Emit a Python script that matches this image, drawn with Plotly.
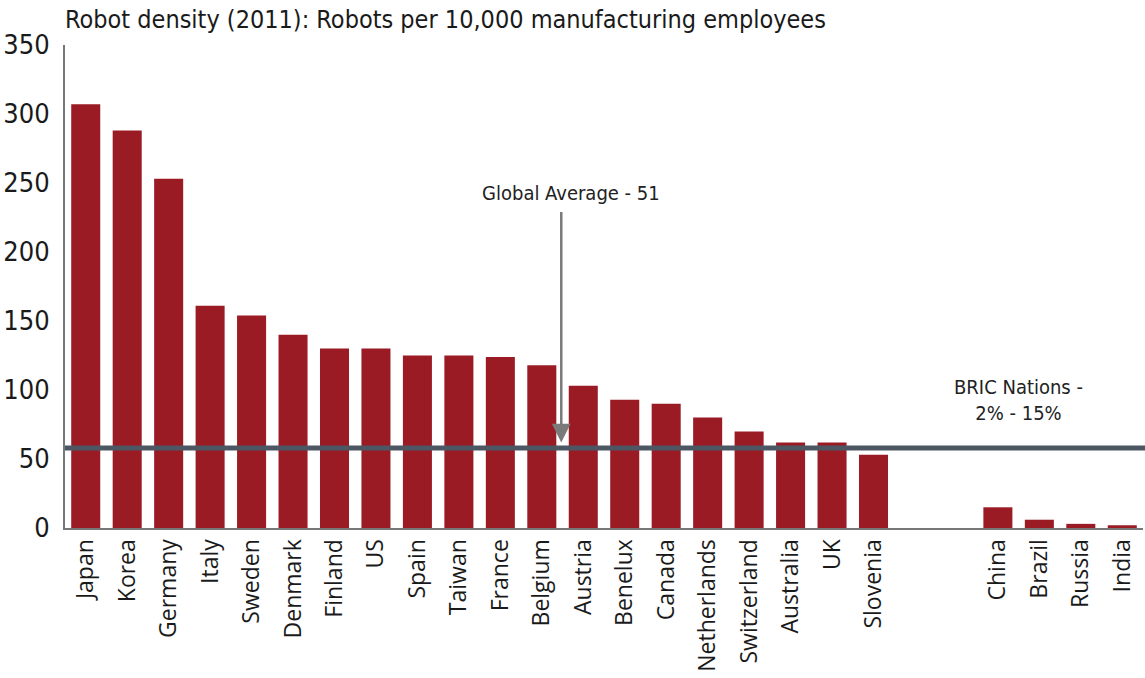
import plotly.graph_objects as go

countries = ["Japan", "Korea", "Germany", "Italy", "Sweden", "Denmark", "Finland", "US",
             "Spain", "Taiwan", "France", "Belgium", "Austria", "Benelux", "Canada",
             "Netherlands", "Switzerland", "Australia", "UK", "Slovenia"]
density = [307, 288, 253, 161, 154, 140, 130, 130, 125, 125, 124, 118, 103, 93, 90,
           80, 70, 62, 62, 53]
bric = ["China", "Brazil", "Russia", "India"]
bric_density = [15, 6, 3, 2]
spacers = [" ", "  "]
average_line = 58
y_ticks = [0, 50, 100, 150, 200, 250, 300, 350]

cats = countries + spacers + bric
vals = density + [None, None] + bric_density

BAR = "#9a1b24"
FONT = "DejaVu Sans Condensed, sans-serif"

fig = go.Figure()
fig.add_trace(go.Bar(x=cats, y=vals, marker=dict(color=BAR, line=dict(width=0)),
                     showlegend=False))

fig.add_shape(type="line", xref="paper", yref="y", x0=0, x1=1.01,
              y0=average_line, y1=average_line,
              line=dict(color="#4d5663", width=5))

fig.add_annotation(x=12, y=average_line + 4, xref="x", yref="y", ax=12, ay=230, axref="x", ayref="y",
                   text="", showarrow=True, arrowhead=2, arrowsize=1.5, arrowwidth=2.5,
                   arrowcolor="#7a7a7a", xshift=-22)
fig.add_annotation(x=11.7, y=243, xref="x", yref="y", text="Global Average - 51",
                   showarrow=False, font=dict(family=FONT, size=20, color="#222"))
fig.add_annotation(x=22.5, y=93, xref="x", yref="y", text="BRIC Nations -<br>2% - 15%",
                   showarrow=False, font=dict(family=FONT, size=20, color="#222"))

fig.update_layout(
    width=1145, height=678,
    margin=dict(l=65, r=2, t=45, b=150),
    paper_bgcolor="white", plot_bgcolor="white",
    bargap=0.3,
    title=dict(text="Robot density (2011): Robots per 10,000 manufacturing employees",
               x=0, xref="paper", xanchor="left", y=0.985, yanchor="top",
               font=dict(family=FONT, size=25, color="#1a1a1a"), pad=dict(l=0)),
    font=dict(family=FONT, color="#1a1a1a"),
)
fig.update_xaxes(type="category", categoryorder="array", categoryarray=cats,
                 tickangle=-90, tickfont=dict(family="Open Sans, sans-serif", size=23, color="#1a1a1a"),
                 showline=True, linecolor="#777", linewidth=2, ticks="", showgrid=False,
                 range=[-0.5, len(cats) - 0.5])
fig.update_yaxes(range=[0, 350], tickvals=y_ticks, showgrid=False, zeroline=False,
                 showline=True, linecolor="#777", linewidth=2, ticks="",
                 tickfont=dict(family=FONT, size=27, color="#1a1a1a"), ticklabelstandoff=8)

fig.write_html("out.html")
